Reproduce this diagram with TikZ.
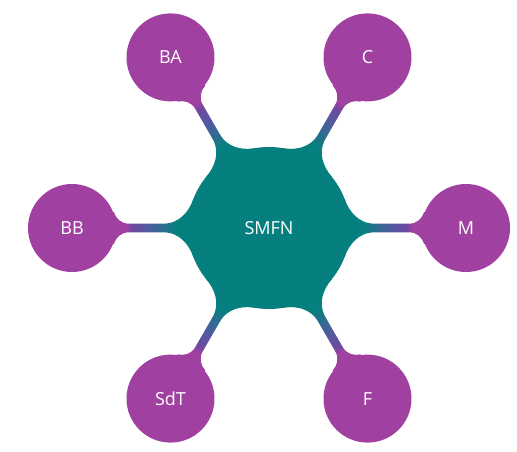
\documentclass[tikz,border=0pt]{standalone}
\usepackage{fontspec}
\setmainfont{Open Sans}
\usetikzlibrary{backgrounds,calc}
\definecolor{satpurple}{RGB}{160,64,160}
\definecolor{hubteal}{RGB}{6,128,126}
\definecolor{spokeblue}{RGB}{82,90,160}
\definecolor{spokeviolet}{RGB}{110,72,160}
\pgfdeclarehorizontalshading{spokesh}{100bp}{color(0bp)=(hubteal); color(40bp)=(hubteal); color(53bp)=(spokeblue); color(60bp)=(spokeviolet); color(63bp)=(satpurple); color(100bp)=(satpurple)}
\tikzset{
  sat/.style={circle, fill=satpurple, minimum size=88pt, inner sep=0pt, text=white, font=\fontsize{18}{21}\selectfont},
  hubnode/.style={circle, fill=hubteal, minimum size=162pt, inner sep=0pt, text=white, font=\fontsize{18}{21}\selectfont},
}
\begin{document}
\begin{tikzpicture}[x=1pt,y=1pt]
\useasboundingbox (0,0) rectangle (517,451);
\node[hubnode] (hub) at (269,223) {SMFN};
\foreach \nm/\lab/\ang in {m/M/0, c/C/60, ba/BA/120, bb/BB/180, sdt/SdT/240, f/F/300}{
  \node[sat] (\nm) at ($(hub.center)+(\ang:197)$) {\lab};
}
\begin{pgfonlayer}{background}
\foreach \nm/\ang in {m/0, c/60, ba/120, bb/180, sdt/240, f/300}{
  \begin{scope}[transform canvas={shift={(hub.center)}, rotate=\ang}]
    \shade[shading=spokesh]
      (60,29) -- (75.6,29)
      .. controls (80,17) and (89,4.3) .. (106,4.3)
      -- (140,4.3)
      .. controls (148,4.3) and (153,9.4) .. (155.2,16)
      -- (170,16) -- (170,-16) -- (155.2,-16)
      .. controls (153,-9.4) and (148,-4.3) .. (140,-4.3)
      -- (106,-4.3)
      .. controls (89,-4.3) and (80,-17) .. (75.6,-29)
      -- (60,-29) -- cycle;
  \end{scope}
}
\end{pgfonlayer}
\end{tikzpicture}
\end{document}
